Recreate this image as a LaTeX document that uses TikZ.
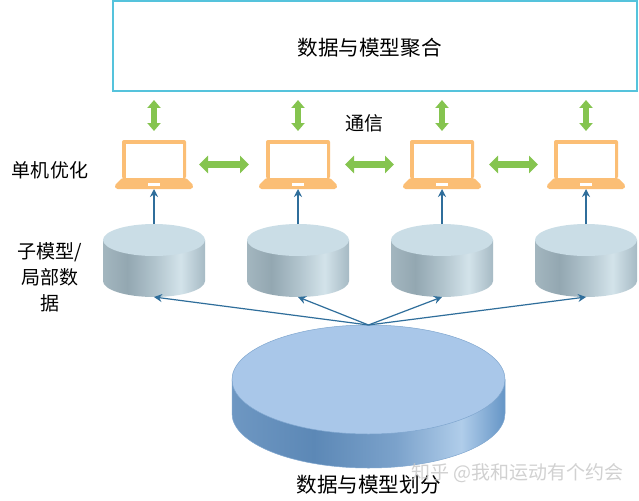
\documentclass[tikz,border=0pt]{standalone}
\usepackage{fontspec}
\usetikzlibrary{arrows.meta}
\newfontfamily\cjk{Noto Sans CJK SC}
\definecolor{boxline}{HTML}{55C3DC}
\definecolor{pcorange}{HTML}{FBBE75}
\definecolor{linkgreen}{HTML}{85C44F}
\definecolor{datablue}{HTML}{2F6E9B}
\definecolor{disktop}{HTML}{CADDE6}
\definecolor{bigtop}{HTML}{A9C7E9}
\definecolor{bigedge}{HTML}{7FA6CF}
\definecolor{sa}{HTML}{A3B6BF}
\definecolor{sb}{HTML}{93A7B1}
\definecolor{sc}{HTML}{B0C3CC}
\definecolor{sd}{HTML}{D3E3EA}
\definecolor{se}{HTML}{A6BAC4}
\definecolor{ba}{HTML}{6E97C2}
\definecolor{bb}{HTML}{5C88B6}
\definecolor{bc}{HTML}{7BA2CB}
\definecolor{bd}{HTML}{B0CDEA}
\definecolor{be}{HTML}{6595C6}
\pgfdeclarehorizontalshading{smallside}{100bp}{color(0bp)=(sa); color(25bp)=(sa); color(37bp)=(sb); color(50bp)=(sc); color(63bp)=(sd); color(75bp)=(se); color(100bp)=(se)}
\pgfdeclarehorizontalshading{bigside}{100bp}{color(0bp)=(ba); color(25bp)=(ba); color(40bp)=(bb); color(55bp)=(bc); color(67bp)=(bd); color(75bp)=(be); color(100bp)=(be)}
\tikzset{
	every node/.append style={font=\cjk\fontsize{19}{26}\selectfont},
	boxlabel/.style={font=\cjk\fontsize{20.6}{26}\selectfont},
	holder/.style={inner sep=0pt,outer sep=0pt},
	topbox/.style={holder,draw=boxline,line width=1.3pt,fill=white,minimum width=524pt,minimum height=90pt},
	pcbox/.style={holder,minimum width=78pt,minimum height=49pt},
	diskbox/.style={holder,minimum width=102pt,minimum height=73pt},
	bigbox/.style={holder,minimum width=273pt,minimum height=143pt},
	greenlink/.style={<->,>={Triangle[width=13pt,length=8pt]},draw=linkgreen,line width=6pt},
	sidelink/.style={<->,>={Triangle[width=17pt,length=9pt]},draw=linkgreen,line width=7pt},
	bluelink/.style={->,>={Stealth[width=8pt,length=8pt]},draw=datablue,line width=1.2pt},
	watermark/.style={font=\cjk\fontsize{19}{22}\selectfont,text=gray!45,text opacity=0.8},
	pcpic/.pic={
		\fill[pcorange,rounded corners=2pt] (-32,-14) -- (-32,24.5) -- (32,24.5) -- (32,-14) -- cycle;
		\fill[white] (-28.5,-13.5) rectangle (28.5,20.5);
		\fill[pcorange,rounded corners=1.5pt] (-32,-13.5) -- (-39.5,-21) -- (-38,-24.5) -- (38,-24.5) -- (39.5,-21) -- (32,-13.5) -- cycle;
		\fill[white] (-6,-18.5) rectangle (6,-21.5);
	},
	diskpic/.pic={
		\shade[shading=smallside] (-51,20.5) -- (-51,-20.5) arc (180:360:51 and 16) -- (51,20.5) -- cycle;
		\fill[disktop] (0,20.5) ellipse (51 and 16);
	},
	bigpic/.pic={
		\shade[shading=bigside,draw=bigedge,line width=0.5pt] (-136.5,17) -- (-136.5,-17) arc (180:360:136.5 and 54.5) -- (136.5,17) -- cycle;
		\draw[fill=bigtop,draw=bigedge,line width=0.5pt] (0,17) ellipse (136.5 and 54.5);
	},
}
\begin{document}
\begin{tikzpicture}[x=1pt,y=1pt]
	\useasboundingbox (0,0) rectangle (639,-500);
	\fill[white] (0,0) rectangle (639,-500);
	% top box
	\node[topbox] (merge) at (375,-46) {};
	\node[boxlabel] (mergetext) at (369.5,-48) {数据与模型聚合};
	% laptops and disks
	\foreach \i/\x in {1/154,2/298,3/442,4/586} {
		\pic at (\x,-164.5) {pcpic};
		\node[pcbox] (pc\i) at (\x,-164.5) {};
		\pic at (\x,-260.5) {diskpic};
		\node[diskbox] (disk\i) at (\x,-260.5) {};
		\draw[greenlink,shorten <=9pt,shorten >=9pt] (pc\i.north |- merge.south) -- (pc\i.north);
		\draw[bluelink] (disk\i.north) -- (pc\i.south);
	}
	\draw[sidelink,shorten <=6pt,shorten >=10pt] (pc1.east) -- (pc2.west);
	\draw[sidelink,shorten <=8pt,shorten >=9pt] (pc2.east) -- (pc3.west);
	\draw[sidelink,shorten <=8pt,shorten >=9pt] (pc3.east) -- (pc4.west);
	% big disk
	\pic at (368.5,-396.5) {bigpic};
	\node[bigbox] (big) at (368.5,-396.5) {};
	\foreach \i in {1,2,3,4} {
		\draw[bluelink] (big.north) -- (disk\i.south);
	}
	% labels
	\node (talk) at (364,-123) {通信};
	\node (single) at (50,-170) {单机优化};
	\node[align=center] (sub) at (50,-277) {子模型/\\局部数\\据};
	\node[boxlabel] (split) at (368.5,-485) {数据与模型划分};
	\node[watermark] (mark) at (517.5,-473) {知乎 @我和运动有个约会};
\end{tikzpicture}
\end{document}
